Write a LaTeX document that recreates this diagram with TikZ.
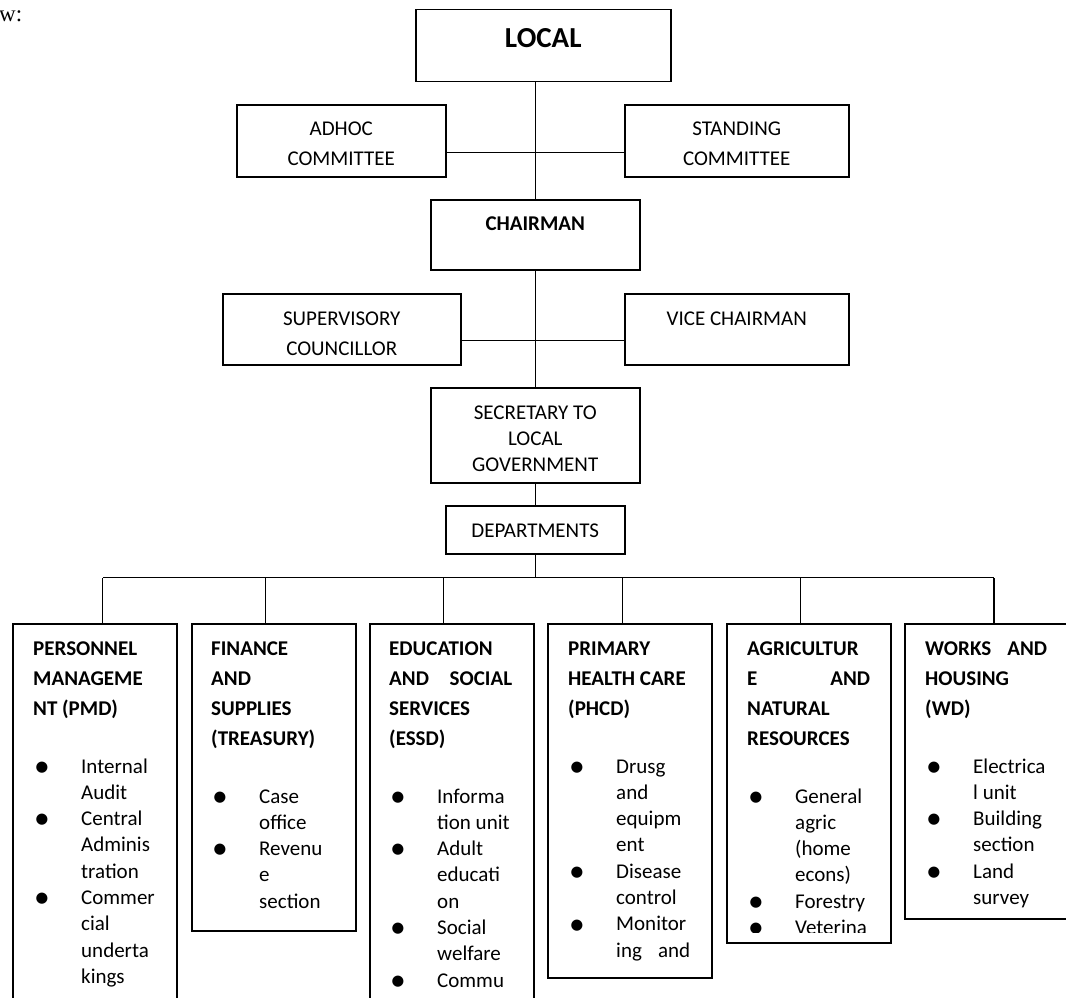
\documentclass[tikz,border=0pt]{standalone}
\usepackage{fontspec}
\setmainfont{Carlito}
\newfontfamily\tnr{Liberation Serif}
\usetikzlibrary{positioning}

\tikzset{
  box/.style={draw, line width=1.5pt, inner sep=0, anchor=north west},
  link/.style={line width=1.4pt},
  txt/.style={inner sep=0, align=center, anchor=base, font=\fontsize{21}{30}\selectfont},
  hdr/.style={inner sep=0, align=left, anchor=base west, font=\fontsize{21}{30}\selectfont\bfseries},
  lst/.style={inner sep=0, align=left, anchor=base west, font=\fontsize{21}{26.3}\selectfont},
}
\newcommand{\itm}[1]{\makebox[48pt][l]{\hspace{1pt}\raisebox{-3.2pt}{\scalebox{1.5}{\textbullet}}}#1}
\newcommand{\cnt}{\makebox[48pt]{}}

\begin{document}
\begin{tikzpicture}[x=1pt, y=-1pt, line join=miter]
  \useasboundingbox (0,0) rectangle (1066,998);
  \clip (0,0) rectangle (1066,998);
  \node[inner sep=0, anchor=base west, font=\tnr\fontsize{23}{26}\selectfont] (intro) at (-1,22) {w:};

  % upper part
  \path (415,9) node[box, minimum width=255pt, minimum height=72pt] (local) {}
        (236,104) node[box, minimum width=209pt, minimum height=72pt] (adhoc) {}
        (624,104) node[box, minimum width=224pt, minimum height=72pt] (stand) {}
        (430,199) node[box, minimum width=209pt, minimum height=70pt] (chair) {}
        (222,293) node[box, minimum width=238pt, minimum height=71pt] (sup) {}
        (624,293) node[box, minimum width=224pt, minimum height=71pt] (vice) {}
        (430,387) node[box, minimum width=209pt, minimum height=95pt] (sec) {}
        (445,505) node[box, minimum width=179pt, minimum height=48pt] (dept) {};
  % (base = last line)
  \path (local.north) ++(0,39) node[txt, font=\fontsize{29}{34}\selectfont\bfseries] (localt) {LOCAL}
        (adhoc.north) ++(0,61) node[txt] (adhoct) {ADHOC\\COMMITTEE}
        (stand.north) ++(0,61) node[txt] (standt) {STANDING\\COMMITTEE}
        (chair.north) ++(0,31) node[txt, font=\fontsize{21}{30}\selectfont\bfseries] (chairt) {CHAIRMAN}
        (sup.north) ++(0,62) node[txt] (supt) {SUPERVISORY\\COUNCILLOR}
        (vice.north) ++(0,32) node[txt] (vicet) {VICE CHAIRMAN}
        (sec.north) ++(0,84) node[txt, font=\fontsize{21}{26}\selectfont] (sect) {SECRETARY TO\\LOCAL\\GOVERNMENT}
        (dept.north) ++(0,32) node[txt] (deptt) {DEPARTMENTS};

  \draw[link] (local.south -| chair.north) -- (chair.north);
  \draw[link] ([yshift=-12pt]adhoc.east) -- ([yshift=-12pt]stand.west);
  \draw[link] (chair.south) -- (sec.north);
  \draw[link] ([yshift=-11.5pt]sup.east) -- ([yshift=-11.5pt]vice.west);
  \draw[link] (sec.south) -- (dept.north);

  % departments
  \path (12,623) node[box, minimum width=164pt, minimum height=400pt] (pmd) {}
        (191,623) node[box, minimum width=164pt, minimum height=307pt] (fin) {}
        (369,623) node[box, minimum width=164pt, minimum height=400pt] (essd) {}
        (547,623) node[box, minimum width=164pt, minimum height=354pt] (phcd) {}
        (726,623) node[box, minimum width=164pt, minimum height=319pt] (agric) {}
        (904,623) node[box, minimum width=200pt, minimum height=295pt] (wd) {};

  \path (pmd.north west) ++(21,92) node[hdr] (pmdh) {PERSONNEL\\MANAGEME\\NT (PMD)}
        (fin.north west) ++(20,122) node[hdr] (finh) {FINANCE\\AND\\SUPPLIES\\(TREASURY)}
        (essd.north west) ++(20,122) node[hdr] (essdh) {EDUCATION\\\hbox to 123pt{AND\hfill SOCIAL}\\SERVICES\\(ESSD)}
        (phcd.north west) ++(21,92) node[hdr] (phcdh) {PRIMARY\\HEALTH CARE\\(PHCD)}
        (agric.north west) ++(21,122) node[hdr] (agrich) {AGRICULTUR\\\hbox to 123pt{E\hfill AND}\\NATURAL\\RESOURCES}
        (wd.north west) ++(21,92) node[hdr] (wdh) {\hbox to 122pt{WORKS\hfill AND}\\HOUSING\\(WD)};

  \path (pmd.north west) ++(21,360.4) node[lst] (pmdl) {\itm{Internal}\\\cnt Audit\\\itm{Central}\\\cnt Adminis\\\cnt tration\\\itm{Commer}\\\cnt cial\\\cnt underta\\\cnt kings}
        (fin.north west) ++(20,285.2) node[lst] (finl) {\itm{Case}\\\cnt office\\\itm{Revenu}\\\cnt e\\\cnt section}
        (essd.north west) ++(20,364.1) node[lst] (essdl) {\itm{Informa}\\\cnt tion unit\\\itm{Adult}\\\cnt educati\\\cnt on\\\itm{Social}\\\cnt welfare\\\itm{Commu}}
        (phcd.north west) ++(21,334.1) node[lst] (phcdl) {\itm{Drusg}\\\cnt and\\\cnt equipm\\\cnt ent\\\itm{Disease}\\\cnt control\\\itm{Monitor}\\\cnt\hbox to 74pt{ing\hfill and}}
        (wd.north west) ++(21,281.5) node[lst] (wdl) {\itm{Electrica}\\\cnt l unit\\\itm{Building}\\\cnt section\\\itm{Land}\\\cnt survey};
  \begin{scope}
    \clip (agric.north west) rectangle ++(164,309);
    \path (agric.north west) ++(21,311.5) node[lst] (agricl) {\itm{General}\\\cnt agric\\\cnt (home\\\cnt econs)\\\itm{Forestry}\\\itm{Veterina}};
  \end{scope}

  % bus and drops
  \path (dept.south) ++(0,23) coordinate (bus);
  \coordinate (pmdt) at ([xshift=8pt]pmd.north);
  \coordinate (fint) at ([xshift=-8pt]fin.north);
  \coordinate (essdt) at ([xshift=-8pt]essd.north);
  \coordinate (phcdt) at ([xshift=-7pt]phcd.north);
  \coordinate (agrict) at ([xshift=-8pt]agric.north);
  \coordinate (wdt) at ([xshift=90pt]wd.north west);
  \draw[link] (dept.south) -- (bus);
  \draw[link] (pmdt |- bus) -- (wdt |- bus);
  \foreach \d in {pmdt,fint,essdt,phcdt,agrict,wdt}
    \draw[link] (\d) -- (\d |- bus);
\end{tikzpicture}
\end{document}
